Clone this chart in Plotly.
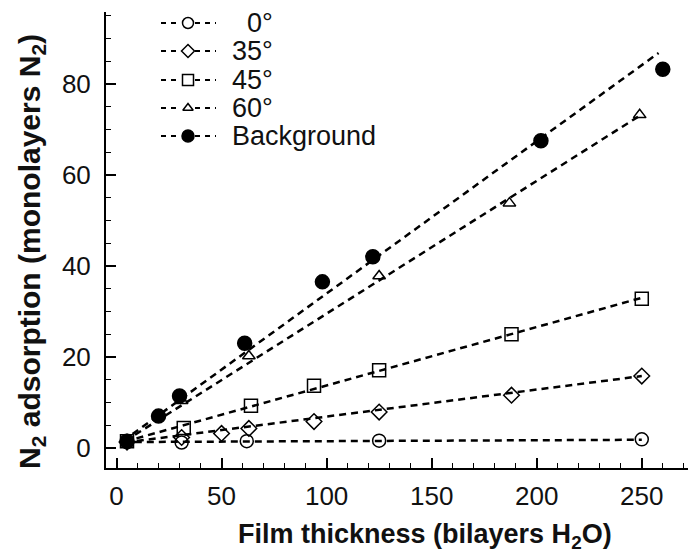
import plotly.graph_objects as go

# ---- data ----
names = ["\u20070°", "35°", "45°", "60°", "Background"]

x0 = [5, 31, 62, 125, 250]
y0 = [1.3, 1.2, 1.5, 1.6, 1.9]

x35 = [5, 31, 50, 63, 94, 125, 188, 250]
y35 = [1.3, 2.3, 3.2, 4.3, 5.8, 7.9, 11.6, 15.8]

x45 = [5, 32, 64, 94, 125, 188, 250]
y45 = [1.5, 4.4, 9.3, 13.7, 17.1, 25.0, 32.8]

x60 = [5, 31, 63, 125, 187, 249]
y60 = [1.6, 10.4, 20.2, 37.8, 53.8, 73.2]

xbg = [5, 20, 30, 61, 98, 122, 202, 260]
ybg = [1.5, 7.0, 11.4, 23.0, 36.5, 42.0, 67.5, 83.2]

# fitted dashed lines (endpoints)
fit_x0, fit_y0 = [3, 250], [1.3, 1.8]
fit_x35, fit_y35 = [4, 250], [1.2, 15.8]
fit_x45, fit_y45 = [4, 250], [1.4, 33.0]
fit_x60, fit_y60 = [4, 249], [1.5, 73.0]
fit_xbg, fit_ybg = [3, 258], [1.5, 86.8]

xticks = [0, 50, 100, 150, 200, 250]
yticks = [0, 20, 40, 60, 80]

# marker style per series: (symbol, plot size, legend size)
styles = [
    ("circle-open", 13, 11),
    ("diamond-open", 12, 10),
    ("square-open", 13, 11),
    ("triangle-up-open", 11, 9),
    ("circle", 14, 12),
]
data = [(x0, y0, fit_x0, fit_y0), (x35, y35, fit_x35, fit_y35),
        (x45, y45, fit_x45, fit_y45), (x60, y60, fit_x60, fit_y60),
        (xbg, ybg, fit_xbg, fit_ybg)]

W, H = 691, 554
L, R, T, B = 106, 3, 12, 86
PW, PH = W - L - R, H - T - B
DASH = "7px,5px"
font = "Liberation Sans, Arial, Helvetica, sans-serif"


def px(x):  # page pixel -> paper x
    return (x - L) / PW


def py(y):  # page pixel -> paper y
    return (H - B - y) / PH


fig = go.Figure()
for (xs, ys, fx, fy), (sym, sz, lsz) in zip(data, styles):
    fig.add_trace(go.Scatter(x=fx, y=fy, mode="lines", showlegend=False,
                             line=dict(color="black", width=2.5, dash=DASH),
                             hoverinfo="skip"))
    fig.add_trace(go.Scatter(x=xs, y=ys, mode="markers", showlegend=False,
                             marker=dict(symbol=sym, size=sz, color="black",
                                         line=dict(color="black", width=1.5))))

# ---- hand-made legend on an overlay axis measured in page pixels ----
leg_rows = [23, 51, 80, 108, 136]
leg_x0, leg_x1, leg_mid = 161, 216, 188
ann = []
for name, (sym, sz, lsz), ry in zip(names, styles, leg_rows):
    fig.add_trace(go.Scatter(x=[leg_x0, leg_mid - 7, None, leg_mid + 7, leg_x1],
                             y=[ry, ry, None, ry, ry], mode="lines",
                             xaxis="x2", yaxis="y2", showlegend=False, hoverinfo="skip",
                             line=dict(color="black", width=2, dash="5px,5px")))
    fig.add_trace(go.Scatter(x=[leg_mid], y=[ry], mode="markers",
                             xaxis="x2", yaxis="y2", showlegend=False, hoverinfo="skip",
                             marker=dict(symbol=sym, size=lsz, color="black",
                                         line=dict(color="black", width=1.5))))
    ann.append(dict(x=px(230), y=py(ry), xref="paper", yref="paper", text=name,
                    showarrow=False, xanchor="left", yanchor="middle",
                    font=dict(size=27, color="#111")))

# axis titles
ann.append(dict(x=px(425), y=py(536), xref="paper", yref="paper", showarrow=False,
                text="<b>Film thickness (bilayers H<sub>2</sub>O)</b>",
                xanchor="center", yanchor="middle", font=dict(size=27, color="#111")))
ann.append(dict(x=px(31), y=py(252), xref="paper", yref="paper", showarrow=False,
                textangle=-90,
                text="<b>N<sub>2</sub> adsorption (monolayers N<sub>2</sub>)</b>",
                xanchor="center", yanchor="middle", font=dict(size=30, color="#111")))

fig.update_layout(
    width=W, height=H,
    margin=dict(l=L, r=R, t=T, b=B),
    paper_bgcolor="white", plot_bgcolor="white",
    font=dict(family=font, size=26, color="#111"),
    showlegend=False,
    annotations=ann,
    xaxis=dict(range=[-5, 272], tickvals=xticks, ticktext=[str(v) for v in xticks],
               ticks="inside", ticklen=10, tickwidth=1.5, tickcolor="black",
               minor=dict(dtick=10, tick0=0, ticks="inside", ticklen=5, tickcolor="black", tickwidth=1.2),
               showline=True, linecolor="black", linewidth=2, showgrid=False, zeroline=False,
               tickfont=dict(size=26), ticklabelstandoff=4),
    yaxis=dict(range=[-4.4, 95.8], tickvals=yticks, ticktext=[str(v) for v in yticks],
               ticks="inside", ticklen=10, tickwidth=1.5, tickcolor="black",
               minor=dict(dtick=5, tick0=0, ticks="inside", ticklen=5, tickcolor="black", tickwidth=1.2),
               showline=True, linecolor="black", linewidth=2, showgrid=False, zeroline=False,
               tickfont=dict(size=26), ticklabelstandoff=8),
    # overlay axes in page pixels covering the plot area
    xaxis2=dict(overlaying="x", range=[L, W - R], visible=False, fixedrange=True),
    yaxis2=dict(overlaying="y", range=[H - B, T], visible=False, fixedrange=True),
)

fig.write_html("out.html")
